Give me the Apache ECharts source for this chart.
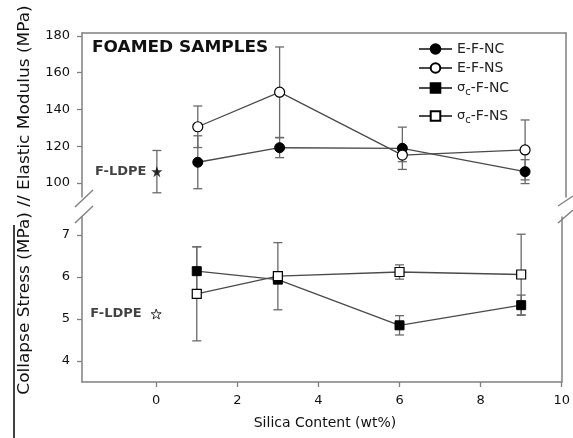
<!DOCTYPE html>
<html>
<head>
<meta charset="utf-8">
<script src="https://cdn.jsdelivr.net/npm/echarts@6/dist/echarts.min.js"></script>
<style>
html, body { margin: 0; padding: 0; background: #fff; }
#chart { width: 573px; height: 438px; }
</style>
</head>
<body>
<div id="chart"></div>
<script>
// values
const silica = [1, 3, 6, 9];
const modulusNC = [111.3, 119.2, 118.9, 106.2];
const modulusNCErr = [14.4, 5.4, 11.5, 6.5];
const modulusNS = [130.6, 149.4, 115.2, 118.0];
const modulusNSErr = [11.3, 24.6, 3.6, 16.3];
const stressNC = [6.14, 5.94, 4.85, 5.33];
const stressNCErr = [0.58, 0.10, 0.23, 0.24];
const stressNS = [5.60, 6.02, 6.12, 6.06];
const stressNSErr = [1.12, 0.80, 0.17, 0.96];
const ldpeX = 0;
const ldpeModulus = 106.2;
const ldpeModulusErr = 11.5;
const ldpeStress = 5.12;
const xTicks = [0, 2, 4, 6, 8, 10];
const modulusTicks = [100, 120, 140, 160, 180];
const stressTicks = [4, 5, 6, 7];

const FONT = '"DejaVu Sans", sans-serif';
const AXIS = '#808080';
const LINE = '#4a4a4a';
const ERR = '#6a6a6a';
const STAR = 'path://M12,1 L14.9,9.2 L23.5,9.2 L16.6,14.3 L19.2,22.6 L12,17.5 L4.8,22.6 L7.4,14.3 L0.5,9.2 L9.1,9.2 Z';

const pts = (ys) => silica.map((x, i) => [x, ys[i]]);
const errs = (ys, es) => silica.map((x, i) => [x, ys[i] - es[i], ys[i] + es[i]]);

function renderErr(params, api) {
  const x = api.value(0);
  const lo = api.coord([x, api.value(1)]);
  const hi = api.coord([x, api.value(2)]);
  const w = 4.5;
  const st = { stroke: ERR, lineWidth: 1.3 };
  return {
    type: 'group',
    children: [
      { type: 'line', shape: { x1: hi[0], y1: hi[1], x2: lo[0], y2: lo[1] }, style: st },
      { type: 'line', shape: { x1: hi[0] - w, y1: hi[1], x2: hi[0] + w, y2: hi[1] }, style: st },
      { type: 'line', shape: { x1: lo[0] - w, y1: lo[1], x2: lo[0] + w, y2: lo[1] }, style: st }
    ]
  };
}

const legendText = {
  fontFamily: FONT, fontSize: 14, color: '#222',
  rich: {
    s: { fontFamily: FONT, fontSize: 13, color: '#222' },
    c: { fontFamily: FONT, fontSize: 10, color: '#222', padding: [9, 0, 0, 0] },
    t: { fontFamily: FONT, fontSize: 14, color: '#222' }
  }
};
function legendAt(name, top) {
  return {
    data: [name], left: 418, top: top, padding: 0,
    itemWidth: 33, itemHeight: 12, selectedMode: false,
    formatter: (n) => n.charAt(0) === 'σ' ? '{s|σ}{c|c}{t|' + n.slice(2) + '}' : n,
    textStyle: legendText
  };
}

const lineAxis = { show: true, onZero: false, lineStyle: { color: AXIS, width: 1.5 } };
const tickLabel = { fontFamily: FONT, fontSize: 13, color: '#111' };
const tickStyle = (vals) => ({ show: true, length: 5, lineStyle: { color: AXIS, width: 1.3 }, customValues: vals });
const plain = { axisLine: lineAxis, axisTick: { show: false }, axisLabel: { show: false }, splitLine: { show: false } };

const chart = echarts.init(document.getElementById('chart'));
chart.setOption({
  animation: false,
  backgroundColor: '#fff',
  grid: [
    { left: 82, right: 7, top: 33, height: 164 },
    { left: 82, right: 7, top: 217, height: 165 }
  ],
  xAxis: [
    Object.assign({ gridIndex: 0, type: 'value', position: 'top', min: -1.83, max: 10 }, plain),
    { gridIndex: 1, type: 'value', position: 'bottom', min: -1.83, max: 10,
      axisLine: lineAxis, axisTick: tickStyle(xTicks),
      axisLabel: Object.assign({ margin: 12, customValues: xTicks }, tickLabel),
      splitLine: { show: false } }
  ],
  yAxis: [
    { gridIndex: 0, type: 'value', position: 'left', min: 92.4, max: 181.6,
      axisLine: lineAxis, axisTick: tickStyle(modulusTicks),
      axisLabel: Object.assign({ margin: 12, customValues: modulusTicks }, tickLabel),
      splitLine: { show: false } },
    Object.assign({ gridIndex: 0, type: 'value', position: 'right', min: 92.4, max: 181.6 }, plain),
    { gridIndex: 1, type: 'value', position: 'left', min: 3.5, max: 7.43,
      axisLine: lineAxis, axisTick: tickStyle(stressTicks),
      axisLabel: Object.assign({ margin: 12, customValues: stressTicks }, tickLabel),
      splitLine: { show: false } },
    Object.assign({ gridIndex: 1, type: 'value', position: 'right', min: 3.5, max: 7.43 }, plain)
  ],
  legend: [
    legendAt('E-F-NC', 42),
    legendAt('E-F-NS', 61),
    legendAt('σc-F-NC', 81),
    legendAt('σc-F-NS', 109)
  ],
  graphic: [
    { type: 'text', x: 92, y: 48, scaleX: 1.13,
      style: { text: 'FOAMED SAMPLES', font: 'bold 15px "DejaVu Sans"', fill: '#111', textAlign: 'left', textVerticalAlign: 'middle' } },
    { type: 'text', x: 25, y: 200, rotation: Math.PI / 2, scaleX: 1.13,
      style: { text: 'Collapse Stress (MPa) // Elastic Modulus (MPa)', font: '15px "DejaVu Sans"', fill: '#111', textAlign: 'center', textVerticalAlign: 'middle' } },
    { type: 'text', x: 325, y: 423,
      style: { text: 'Silica Content (wt%)', font: '14px "DejaVu Sans"', fill: '#111', textAlign: 'center', textVerticalAlign: 'middle' } },
    // axis break marks
    { type: 'line', shape: { x1: 75, y1: 207, x2: 93, y2: 190 }, style: { stroke: AXIS, lineWidth: 1.4 } },
    { type: 'line', shape: { x1: 75, y1: 223, x2: 93, y2: 206 }, style: { stroke: AXIS, lineWidth: 1.4 } },
    { type: 'line', shape: { x1: 558, y1: 206, x2: 573, y2: 196 }, style: { stroke: AXIS, lineWidth: 1.4 } },
    { type: 'line', shape: { x1: 558, y1: 223, x2: 573, y2: 210 }, style: { stroke: AXIS, lineWidth: 1.4 } },
    // stray black rule at the left edge of the scan
    { type: 'line', shape: { x1: 14, y1: 225, x2: 14, y2: 438 }, style: { stroke: '#000', lineWidth: 1.5 } }
  ],
  series: [
    { type: 'custom', name: 'errTop', xAxisIndex: 0, yAxisIndex: 0, renderItem: renderErr, z: 2,
      encode: { x: 0, y: [1, 2] },
      data: errs(modulusNC, modulusNCErr).concat(errs(modulusNS, modulusNSErr), [[ldpeX, ldpeModulus - ldpeModulusErr, ldpeModulus + ldpeModulusErr]]) },
    { type: 'custom', name: 'errBottom', xAxisIndex: 1, yAxisIndex: 2, renderItem: renderErr, z: 2,
      encode: { x: 0, y: [1, 2] },
      data: errs(stressNC, stressNCErr).concat(errs(stressNS, stressNSErr)) },
    { type: 'line', name: 'E-F-NC', xAxisIndex: 0, yAxisIndex: 0, data: pts(modulusNC), z: 3,
      symbol: 'circle', symbolSize: 10, showAllSymbol: true,
      lineStyle: { color: LINE, width: 1.3 }, itemStyle: { color: '#000', borderColor: '#000', borderWidth: 1 } },
    { type: 'line', name: 'E-F-NS', xAxisIndex: 0, yAxisIndex: 0, data: pts(modulusNS), z: 3,
      symbol: 'circle', symbolSize: 10, showAllSymbol: true,
      lineStyle: { color: LINE, width: 1.3 }, itemStyle: { color: '#fff', borderColor: '#000', borderWidth: 1.2 } },
    { type: 'line', name: 'σc-F-NC', xAxisIndex: 1, yAxisIndex: 2, data: pts(stressNC), z: 3,
      symbol: 'rect', symbolSize: 9, showAllSymbol: true,
      lineStyle: { color: LINE, width: 1.3 }, itemStyle: { color: '#000', borderColor: '#000', borderWidth: 1 } },
    { type: 'line', name: 'σc-F-NS', xAxisIndex: 1, yAxisIndex: 2, data: pts(stressNS), z: 3,
      symbol: 'rect', symbolSize: 9, showAllSymbol: true,
      lineStyle: { color: LINE, width: 1.3 }, itemStyle: { color: '#fff', borderColor: '#000', borderWidth: 1.2 } },
    { type: 'scatter', name: 'F-LDPE E', xAxisIndex: 0, yAxisIndex: 0, data: [[ldpeX, ldpeModulus]], z: 4,
      symbol: STAR, symbolSize: 11, itemStyle: { color: '#000' },
      label: { show: true, position: 'left', distance: 5, formatter: 'F-LDPE', fontFamily: FONT, fontWeight: 'bold', fontSize: 13, color: '#111' } },
    { type: 'scatter', name: 'F-LDPE S', xAxisIndex: 1, yAxisIndex: 2, data: [[ldpeX, ldpeStress]], z: 4,
      symbol: STAR, symbolSize: 10, itemStyle: { color: '#fff', borderColor: '#000', borderWidth: 1 },
      label: { show: true, position: 'left', distance: 9, formatter: 'F-LDPE', fontFamily: FONT, fontWeight: 'bold', fontSize: 13, color: '#111' } }
  ]
});
</script>
</body>
</html>
